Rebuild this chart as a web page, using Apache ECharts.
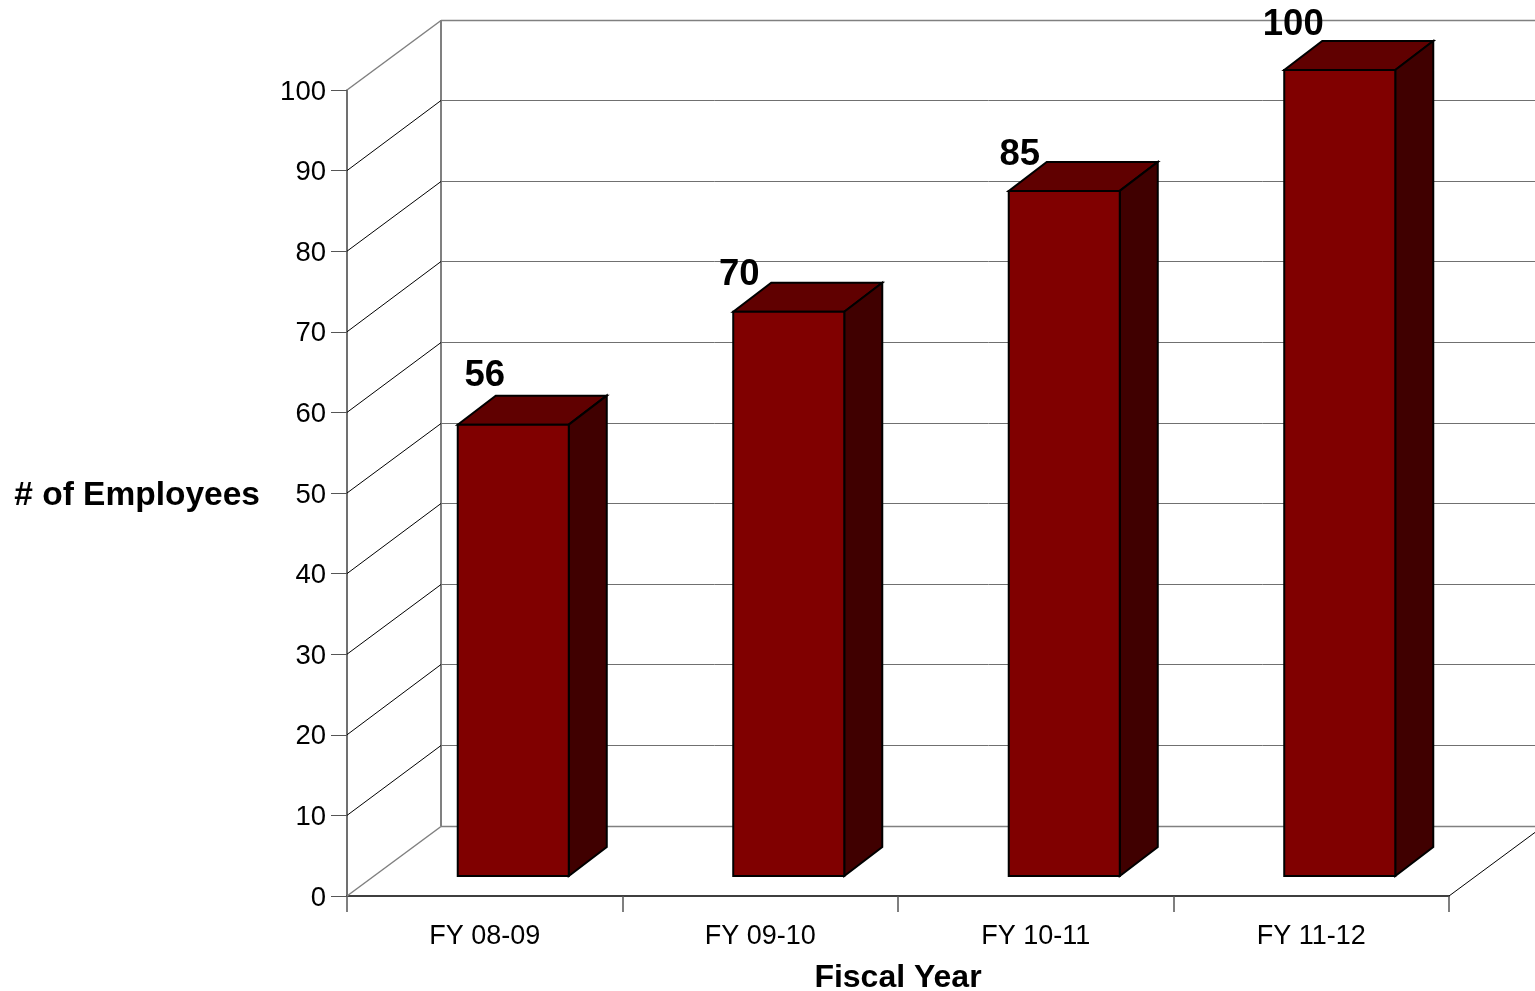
<!DOCTYPE html>
<html>
<head>
<meta charset="utf-8">
<title># of Employees by Fiscal Year</title>
<style>
  html, body { margin: 0; padding: 0; background: #fff; overflow: hidden; }
  #chart { width: 1535px; height: 991px; }
</style>
<script src="https://cdn.jsdelivr.net/npm/echarts@6/dist/echarts.min.js"></script>
</head>
<body>
<div id="chart"></div>
<script>
// Employees per fiscal year
var categories = ['FY 08-09', 'FY 09-10', 'FY 10-11', 'FY 11-12'];
var employees = [56, 70, 85, 100];
var wallTicks = [0, 10, 20, 30, 40, 50, 60, 70, 80, 90, 100];

// Oblique projection, in pixels
var WALL_DX = 94, WALL_DY = 70;      // depth of the floor and side wall
var BAR_INSET_DX = 28.5, BAR_INSET_DY = 20; // front face of a bar behind the axis plane
var BAR_DX = 38, BAR_DY = 29;        // depth of a bar
var BAR_WIDTH_RATIO = 0.403;

// Hand placement of the value captions relative to the bar's top-left corner
var captionShift = [[27, -49], [6, -37], [11, -36], [9, -45]];

var FONT = '"Liberation Sans", Arial, sans-serif';
var GRID_GREY = '#808080';

function line(x1, y1, x2, y2, stroke, width) {
  return {
    type: 'line',
    shape: { x1: x1, y1: y1, x2: x2, y2: y2 },
    style: { stroke: stroke, lineWidth: width }
  };
}

// Side wall diagonal plus back wall gridline for one tick value
function renderWallTick(params, api) {
  var value = api.value(1);
  var rect = params.coordSys;
  var y = api.coord([0, value])[1];
  var x0 = rect.x, x1 = rect.x + WALL_DX, yBack = Math.floor(y - WALL_DY) + 0.5;
  var edge = value === 0 || value === 100;
  var children = [
    line(x0, y, x1, yBack, edge ? GRID_GREY : '#000', edge ? 1.5 : 1),
    line(x1, yBack, rect.x + rect.width + WALL_DX, yBack, edge ? GRID_GREY : '#707070', edge ? 1.5 : 1)
  ];
  if (value === 0) {
    children.push(line(x1, yBack, x1, rect.y - WALL_DY, GRID_GREY, 2));
    children.push(line(rect.x + rect.width, y, rect.x + rect.width + WALL_DX, yBack, '#000', 1));
  }
  return { type: 'group', children: children };
}

function face(points, fill) {
  return {
    type: 'polygon',
    shape: { points: points },
    style: { fill: fill, stroke: '#000', lineWidth: 2, lineJoin: 'miter' }
  };
}

// One oblique bar: front, top and right faces, with its value caption
function renderBar(params, api) {
  var idx = api.value(0);
  var value = api.value(1);
  var center = api.coord([idx, value])[0];
  var width = api.size([1, 0])[0] * BAR_WIDTH_RATIO;
  var left = center + BAR_INSET_DX - width / 2;
  var right = left + width;
  var top = api.coord([idx, value])[1] - BAR_INSET_DY;
  var bottom = api.coord([idx, 0])[1] - BAR_INSET_DY;
  var shift = captionShift[params.dataIndex];
  return {
    type: 'group',
    children: [
      face([[left, top], [right, top], [right + BAR_DX, top - BAR_DY], [left + BAR_DX, top - BAR_DY]], '#600000'),
      face([[right, top], [right + BAR_DX, top - BAR_DY], [right + BAR_DX, bottom - BAR_DY], [right, bottom]], '#400000'),
      face([[left, top], [right, top], [right, bottom], [left, bottom]], '#800000'),
      {
        type: 'text',
        style: {
          text: String(value),
          x: left + shift[0],
          y: top + shift[1],
          fill: '#000',
          font: 'bold 36.5px ' + FONT,
          align: 'center',
          verticalAlign: 'middle'
        }
      }
    ]
  };
}

var chart = echarts.init(document.getElementById('chart'), null, { renderer: 'canvas' });
chart.setOption({
  animation: false,
  backgroundColor: '#fff',
  grid: { left: 347, right: 86, top: 90, bottom: 95, containLabel: false, outerBoundsMode: 'none' },
  xAxis: {
    type: 'category',
    data: categories,
    boundaryGap: true,
    name: 'Fiscal Year',
    nameLocation: 'middle',
    nameGap: 66,
    nameTextStyle: { fontFamily: FONT, fontSize: 32, fontWeight: 'bold', color: '#000' },
    axisLine: { lineStyle: { color: '#000', width: 1.5 } },
    axisTick: { show: true, length: 16, alignWithLabel: false, lineStyle: { color: '#555', width: 1.5 } },
    axisLabel: { fontFamily: FONT, fontSize: 27, color: '#000', margin: 27, interval: 0 }
  },
  yAxis: {
    type: 'value',
    min: 0,
    max: 100,
    interval: 10,
    name: '# of Employees',
    nameLocation: 'middle',
    nameRotate: 0,
    nameGap: 87,
    nameTextStyle: { fontFamily: FONT, fontSize: 33.5, fontWeight: 'bold', color: '#000', verticalAlign: 'top', lineHeight: 6 },
    axisLine: { show: true, lineStyle: { color: '#404040', width: 1.5 } },
    axisTick: { show: true, length: 16, lineStyle: { color: '#555', width: 1 } },
    axisLabel: { fontFamily: FONT, fontSize: 27.5, color: '#000', margin: 21, verticalAlign: 'top', lineHeight: 4 },
    splitLine: { show: false }
  },
  series: [
    {
      type: 'custom',
      name: 'Walls',
      silent: true,
      z: 1,
      renderItem: renderWallTick,
      encode: { x: 0, y: 1 },
      data: wallTicks.map(function (t) { return [0, t]; })
    },
    {
      type: 'custom',
      name: '# of Employees',
      silent: true,
      z: 3,
      renderItem: renderBar,
      encode: { x: 0, y: 1 },
      data: employees.map(function (v, i) { return [i, v]; })
    }
  ]
});
</script>
</body>
</html>
